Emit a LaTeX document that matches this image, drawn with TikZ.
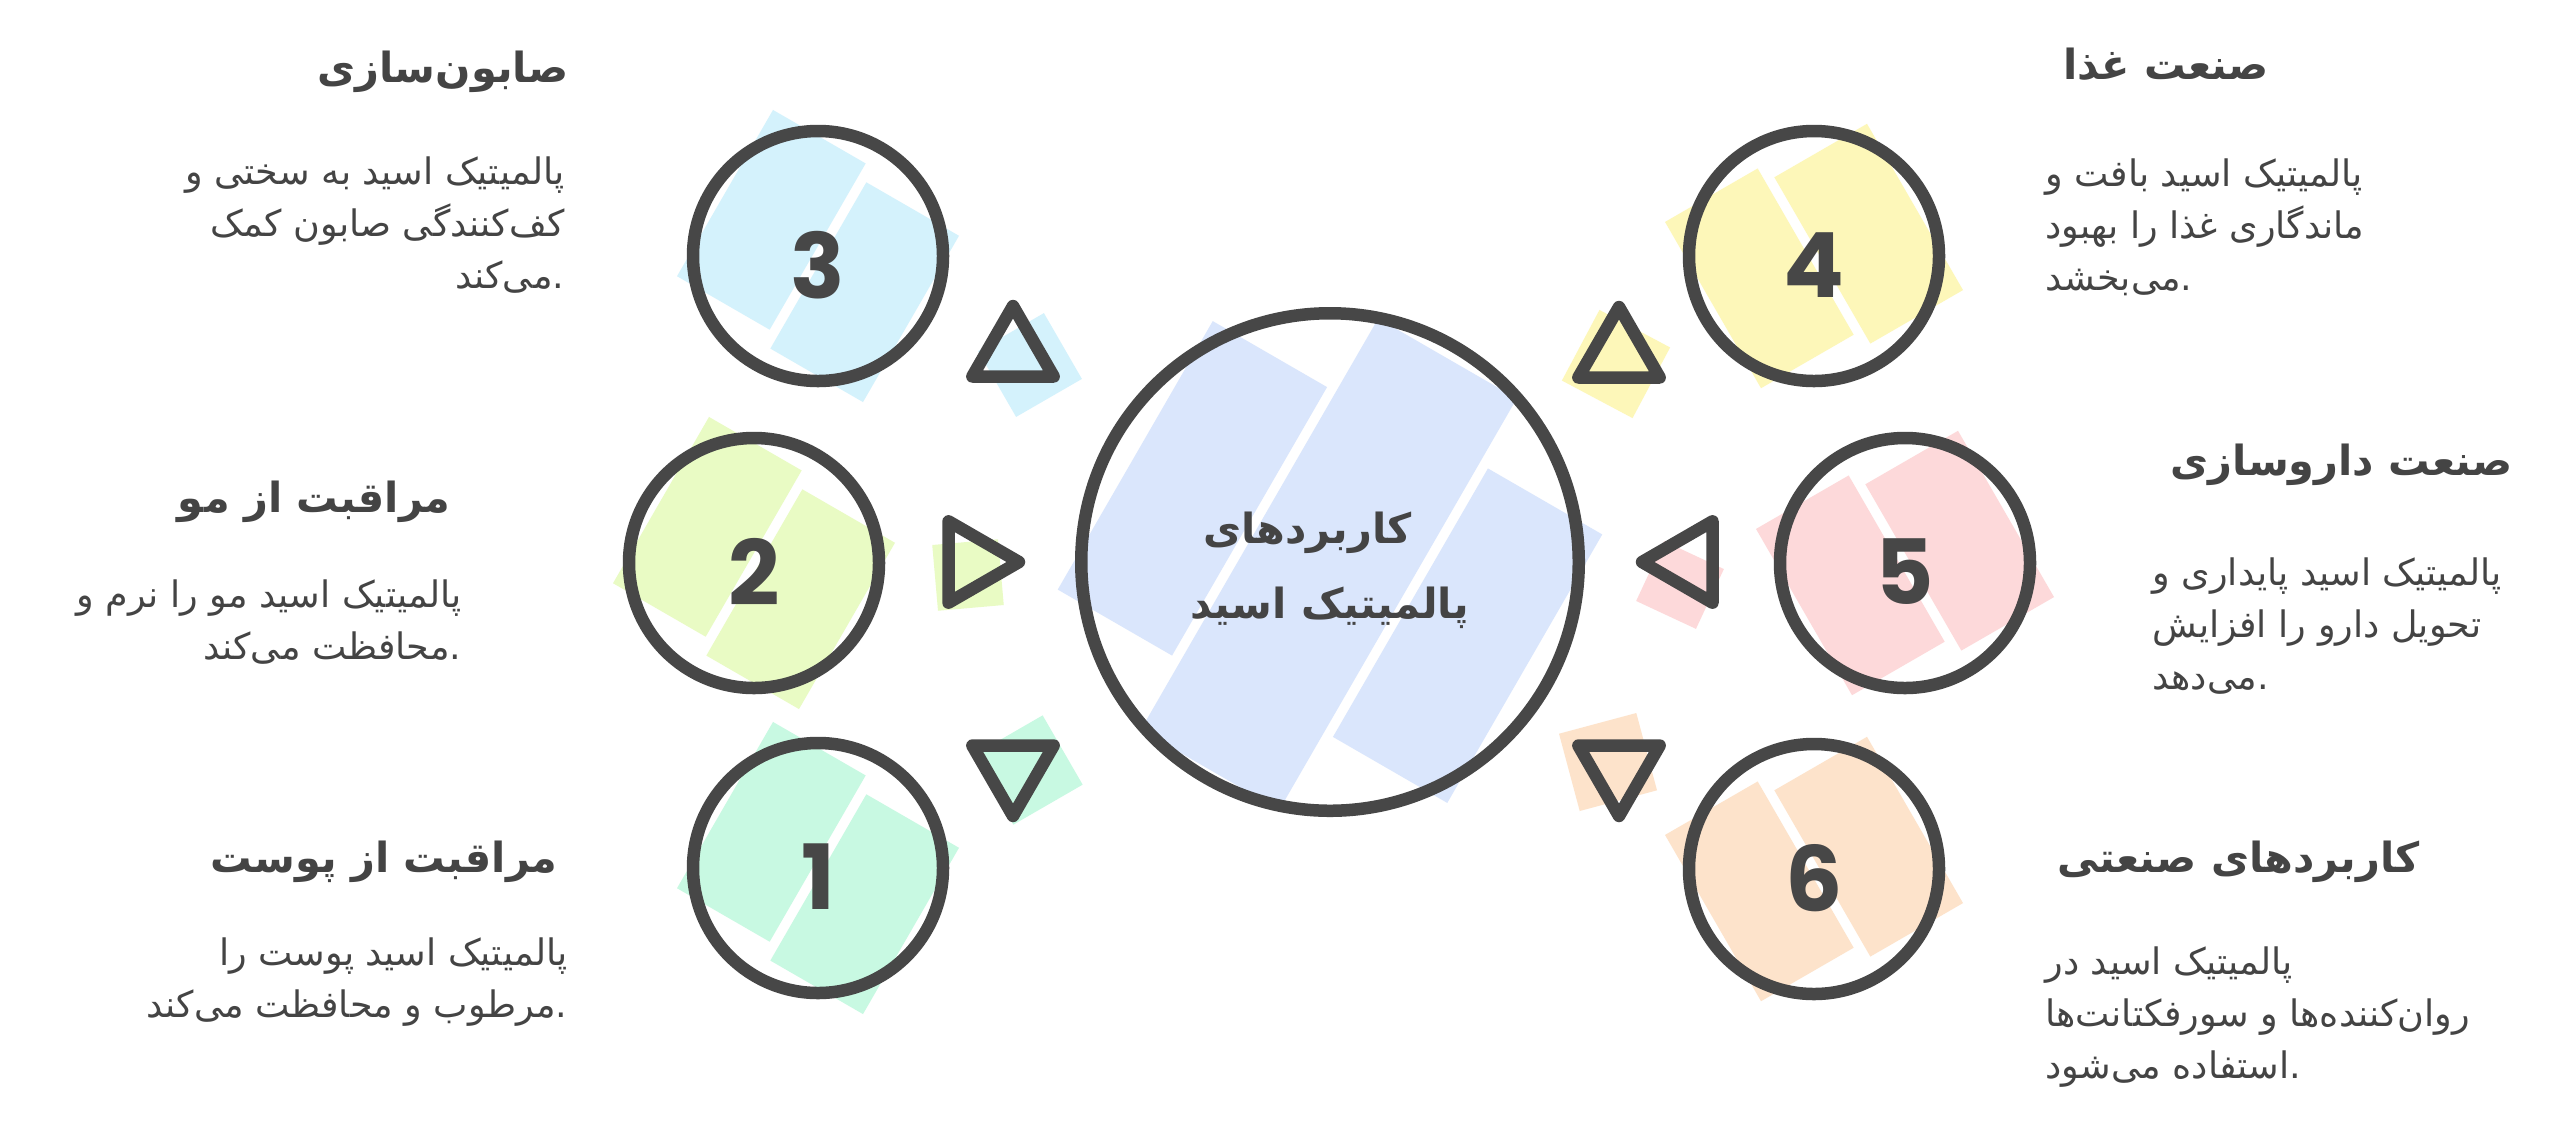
\documentclass[tikz,border=0pt]{standalone}
\usepackage{fontspec}
\usepackage{tikz}
\usetikzlibrary{calc}
\TeXXeTstate=1
\newfontfamily\arabicfont[Script=Arabic]{DejaVu Sans}
\newfontfamily\numfont{Poppins}

\definecolor{strokegray}{RGB}{71,71,71}
\definecolor{textgray}{RGB}{68,68,68}
\definecolor{hubblue}{RGB}{218,230,252}
\definecolor{skyblue}{RGB}{212,242,252}
\definecolor{lightlime}{RGB}{233,251,196}
\definecolor{mintgreen}{RGB}{200,249,226}
\definecolor{paleyellow}{RGB}{253,247,185}
\definecolor{palepink}{RGB}{253,217,218}
\definecolor{palepeach}{RGB}{253,227,203}

\tikzset{
  stepcircle/.style={circle,draw=strokegray,line width=5pt,minimum size=100pt,inner sep=0pt},
  hub/.style={circle,draw=strokegray,line width=5pt,minimum size=199pt,inner sep=0pt,
    text=textgray,font=\arabicfont\bfseries\fontsize{16.6}{30}\selectfont,align=center},
  numlabel/.style={text=strokegray,font=\numfont\bfseries\fontsize{36}{36}\selectfont,inner sep=0pt},
  pointer/.style={draw=strokegray,line width=5pt,line join=round,line cap=round},
  headline/.style={text=textgray,font=\arabicfont\bfseries\fontsize{16.6}{24}\selectfont,inner sep=0pt},
  bodytext/.style={text=textgray,font=\arabicfont\fontsize{14.6}{20.8}\selectfont,inner sep=0pt},
}

\begin{document}
\begin{tikzpicture}[x=0.4pt,y=-0.4pt]
    \fill[white] (0,0) rectangle (2560,1128);
    \useasboundingbox (0,0) rectangle (2560,1128);

    \coordinate (hubc) at (1330,562);

    % hub fill, three tilted strokes
    \foreach \ulo/\uhi/\vlo/\vhi in {-160/150/-222/-90, -240/235/-80/80, -150/160/90/222}
        \fill[hubblue, rotate around={60:(hubc)}]
            ({1330+\ulo},{562+\vlo}) rectangle ({1330+\uhi},{562+\vhi});
    \node[hub] (hub) at (hubc) {};
    \node[text=textgray,font=\arabicfont\bfseries\fontsize{16.6}{30}\selectfont,align=center,inner sep=0pt]
        (hubtext) at (1330,570) {\beginR کاربردهای\endR\hspace*{18pt}\\\beginR پالمیتیک اسید\endR};

    % numbered circles
    \foreach \n/\cx/\cy/\col/\ang in {1/818/868/mintgreen/60, 2/754/563/lightlime/60,
                                      3/818/256/skyblue/60, 4/1814/256/paleyellow/-60,
                                      5/1905/563/palepink/-60, 6/1814/869/palepeach/-60}{
        \fill[\col, rotate around={\ang:(\cx,\cy)}]
            ({\cx-88},{\cy-112}) rectangle ({\cx+104},{\cy-5});
        \fill[\col, rotate around={\ang:(\cx,\cy)}]
            ({\cx-104},{\cy+5}) rectangle ({\cx+88},{\cy+112});
        \node[stepcircle] (k\n) at (\cx,\cy) {};
        \node[numlabel] (n\n) at (\cx,{\cy+9}) {\n};
    }

    % pointers with their patches
    \foreach \n/\tx/\ty/\tang/\sx/\sy/\sang/\ssize/\col in {
            1/1013/769/90/1028/770/30/80/mintgreen,
            2/972/562/0/968/575/5/66/lightlime,
            3/1013/353/-90/1030/365/30/76/skyblue,
            4/1619/354/-90/1616/364/-28/80/paleyellow,
            5/1689/562/180/1680/585/-25/66/palepink,
            6/1619/769/90/1608/762/15/80/palepeach}{
        \fill[\col, rotate around={\sang:(\sx,\sy)}]
            ({\sx-\ssize/2},{\sy-\ssize/2}) rectangle ({\sx+\ssize/2},{\sy+\ssize/2});
        \coordinate (tri\n-a) at ($(\tx,\ty)+(\tang:47)$);
        \coordinate (tri\n-b) at ($(\tx,\ty)+(\tang+120:47)$);
        \coordinate (tri\n-c) at ($(\tx,\ty)+(\tang+240:47)$);
        \draw[pointer] (tri\n-a) -- (tri\n-b) -- (tri\n-c) -- cycle;
    }

    % left side texts
    \node[headline,anchor=east] (title3) at (569,72) {\beginR صابون‌سازی\endR};
    \node[bodytext,anchor=east,align=right] (text3) at (565,225)
        {\beginR پالمیتیک اسید به سختی و\endR\\\beginR کف‌کنندگی صابون کمک\endR\\\beginR می‌کند\endR.};
    \node[headline,anchor=east] (title2) at (451,502) {\beginR مراقبت از مو\endR};
    \node[bodytext,anchor=east,align=right] (text2) at (462,622)
        {\beginR پالمیتیک اسید مو را نرم و\endR\\\beginR محافظت می‌کند\endR.};
    \node[headline,anchor=east] (title1) at (558,862) {\beginR مراقبت از پوست\endR};
    \node[bodytext,anchor=east,align=right] (text1) at (568,982)
        {\beginR پالمیتیک اسید پوست را\endR\\\beginR مرطوب و محافظت می‌کند\endR.};

    % right side texts
    \node[headline,anchor=west] (title4) at (2063,64) {\beginR صنعت غذا\endR};
    \node[bodytext,anchor=west,align=left] (text4) at (2045,227)
        {\beginR پالمیتیک اسید بافت و\endR\\\beginR ماندگاری غذا را بهبود\endR\\\beginR می‌بخشد\endR.};
    \node[headline,anchor=west] (title5) at (2170,465) {\beginR صنعت داروسازی\endR};
    \node[bodytext,anchor=west,align=left] (text5) at (2152,626)
        {\beginR پالمیتیک اسید پایداری و\endR\\\beginR تحویل دارو را افزایش\endR\\\beginR می‌دهد\endR.};
    \node[headline,anchor=west] (title6) at (2057,862) {\beginR کاربردهای صنعتی\endR};
    \node[bodytext,anchor=west,align=left] (text6) at (2045,1017)
        {\beginR پالمیتیک اسید در\endR\\\beginR روان‌کننده‌ها و سورفکتانت‌ها\endR\\\beginR استفاده می‌شود\endR.};
\end{tikzpicture}
\end{document}
